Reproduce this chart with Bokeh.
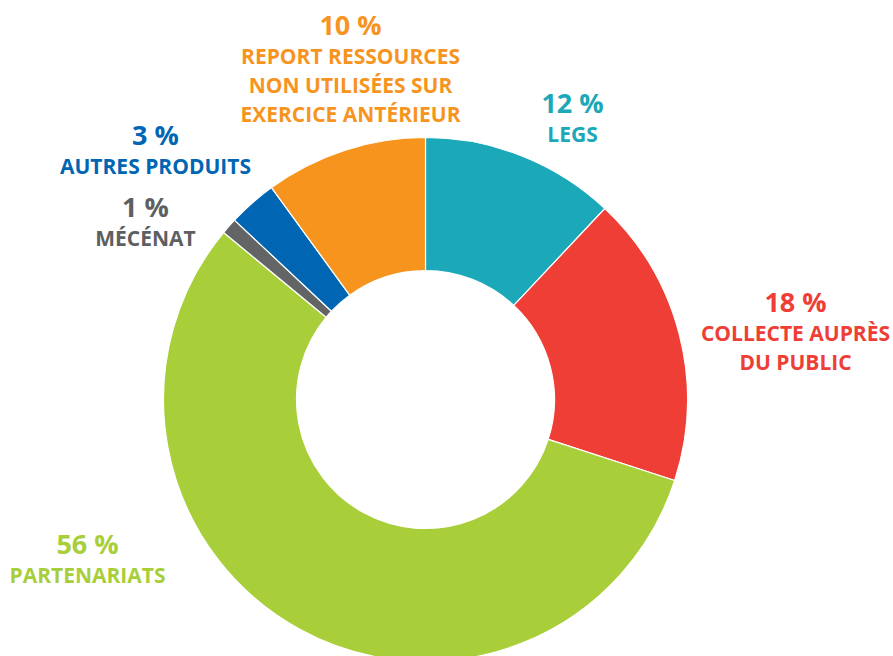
import numpy as np
from bokeh.plotting import figure
from bokeh.models import Range1d, ColumnDataSource
from bokeh.core.properties import value
from bokeh.embed import file_html
from bokeh.resources import INLINE

# Data (clockwise from top)
categories = ["LEGS", "COLLECTE AUPRÈS DU PUBLIC", "PARTENARIATS", "MÉCÉNAT",
              "AUTRES PRODUITS", "REPORT RESSOURCES NON UTILISÉES SUR EXERCICE ANTÉRIEUR"]
percents = [12, 18, 56, 1, 3, 10]
colors = ["#1BA8B8", "#EE3E35", "#A8CE3A", "#636466", "#0066B3", "#F7941E"]
text_colors = ["#1BA8B8", "#EE3E35", "#A8CE3A", "#5E5F61", "#0066B3", "#F7941E"]
label_lines = [["LEGS"], ["COLLECTE AUPRÈS", "DU PUBLIC"], ["PARTENARIATS"], ["MÉCÉNAT"],
               ["AUTRES PRODUITS"], ["REPORT RESSOURCES", "NON UTILISÉES SUR", "EXERCICE ANTÉRIEUR"]]

# Layout (pixels, top-left origin)
W, H = 893, 656
CX, CY = 425, 399
R_IN, R_OUT = 129, 262
label_pos = [(572, 102), (795, 301), (87, 543), (145, 206), (155, 134), (350, 24)]  # baseline of % line
PCT_TO_LINE = 31
LINE_GAP = 29

p = figure(width=W, height=H, output_backend="svg", toolbar_location=None,
           x_range=Range1d(0, W), y_range=Range1d(0, H), min_border=0)
p.axis.visible = False
p.grid.visible = False
p.outline_line_color = None
p.background_fill_color = "white"
p.border_fill_color = "white"

frac = np.array(percents, dtype=float) / sum(percents)
cum = np.concatenate([[0], np.cumsum(frac)])
starts = np.pi / 2 - 2 * np.pi * cum[:-1]
ends = np.pi / 2 - 2 * np.pi * cum[1:]

src = ColumnDataSource(dict(start=starts, end=ends, color=colors))
p.annular_wedge(x=CX, y=H - CY, inner_radius=R_IN, outer_radius=R_OUT,
                start_angle="start", end_angle="end", direction="clock",
                fill_color="color", line_color="white", line_width=1.2, source=src)

tx, ty, tt, tc, ts = [], [], [], [], []
for (x, y), pct, lines, col in zip(label_pos, percents, label_lines, text_colors):
    tx.append(x); ty.append(H - y); tt.append(f"{pct} %"); tc.append(col); ts.append("27px")
    yy = y + PCT_TO_LINE
    for ln in lines:
        tx.append(x); ty.append(H - yy); tt.append(ln); tc.append(col); ts.append("21px")
        yy += LINE_GAP

tsrc = ColumnDataSource(dict(x=tx, y=ty, text=tt, color=tc, size=ts))
p.text(x="x", y="y", text="text", text_color="color", text_font_size="size",
       text_font=value("Open Sans"), text_font_style="bold",
       text_align="center", text_baseline="alphabetic", source=tsrc)

open("out.html", "w").write(file_html(p, INLINE))
